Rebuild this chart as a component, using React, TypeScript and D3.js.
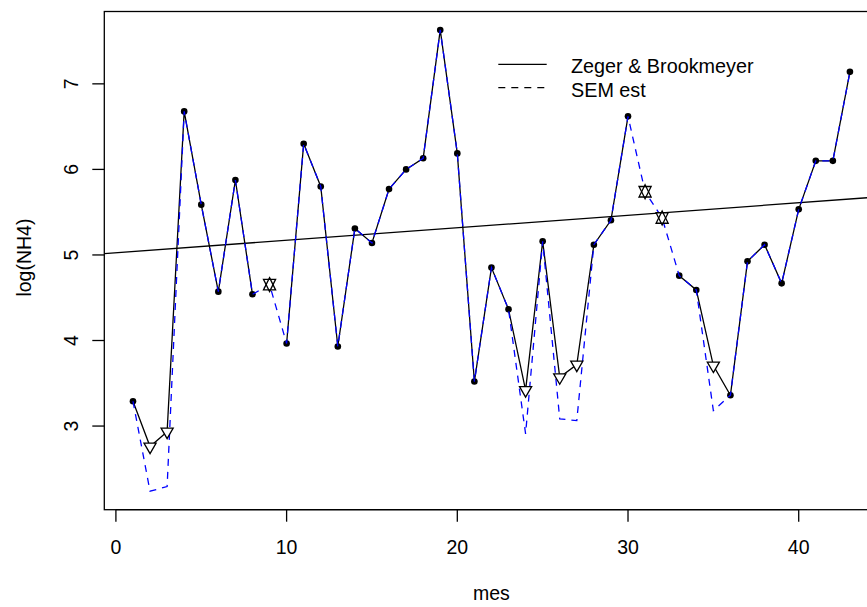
import React from "react";
import * as d3 from "d3";

const months = [1,2,3,4,5,6,7,8,9,10,11,12,13,14,15,16,17,18,19,20,21,22,23,24,25,26,27,28,29,30,31,32,33,34,35,36,37,38,39,40,41,42,43];
// Zeger & Brookmeyer estimates (null = missing month)
const zbEst: (number | null)[] = [3.29,2.76,2.935,6.678,5.588,4.571,5.876,4.54,null,3.965,6.30,5.80,3.93,5.31,5.14,5.77,6.00,6.13,7.63,6.187,3.52,4.852,4.364,3.42,5.159,3.57,3.718,5.12,5.405,6.62,null,null,4.758,4.591,3.707,3.36,4.925,5.12,4.668,5.533,6.10,6.10,7.14];
// SEM estimates
const semEst = [3.29,2.238,2.293,6.678,5.588,4.571,5.876,4.54,4.653,3.965,6.30,5.80,3.93,5.31,5.14,5.77,6.00,6.13,7.63,6.187,3.52,4.852,4.364,2.909,5.159,3.084,3.064,5.12,5.405,6.62,5.739,5.432,4.758,4.591,3.181,3.36,4.925,5.12,4.668,5.533,6.10,6.10,7.14];
const censoredMonths = [2,3,24,26,27,35];
const missingMonths = [9,31,32];
const xTicks = [0,10,20,30,40];
const yTicks = [3,4,5,6,7];
const legendLabels = ["Zeger & Brookmeyer", "SEM est"];
const trendIntercept = 5.026;
const trendSlope = 0.0146;
const xLabel = "mes";
const yLabel = "log(NH4)";

const W = 867, H = 607;
const L = 104.3, R = 878.6, T = 11.5, B = 509.7;
const FONT = "'Liberation Sans', Arial, Helvetica, sans-serif";
const FS = 19.5;
const FS_LEG = 19.8;

function pad(ext: [number, number]): [number, number] {
  const d = (ext[1] - ext[0]) * 0.04;
  return [ext[0] - d, ext[1] + d];
}

export default function App() {
  const x = d3.scaleLinear().domain(pad(d3.extent(months) as [number, number])).range([L, R]);
  const allY = [...semEst, ...(zbEst.filter((v) => v !== null) as number[])];
  const y = d3.scaleLinear().domain(pad(d3.extent(allY) as [number, number])).range([B, T]);

  const zbPts = months.map((m, i) => ({ m, v: zbEst[i] }));
  const zbLine = d3.line<{ m: number; v: number | null }>()
    .defined((d) => d.v !== null)
    .x((d) => x(d.m))
    .y((d) => y(d.v as number));
  const semLine = d3.line<number>().x((_, i) => x(months[i])).y((d) => y(d));

  const [x0, x1] = x.domain();
  const trend = d3.line<number>().x((d) => x(d)).y((d) => y(trendIntercept + trendSlope * d));

  const observed = zbPts.filter((d) => d.v !== null && !censoredMonths.includes(d.m));
  const censored = zbPts.filter((d) => censoredMonths.includes(d.m));
  const missing = months.map((m, i) => ({ m, v: semEst[i] })).filter((d) => missingMonths.includes(d.m));

  const r = 7;
  const xc = (r * Math.sqrt(3)) / 2;
  const triDown = `M0,${r}L${xc},${-r / 2}L${-xc},${-r / 2}Z`;
  const yc = 0.75 * r;
  const starUp = `M0,${-r}L${xc},${yc}L${-xc},${yc}Z`;
  const starDown = `M0,${r}L${xc},${-yc}L${-xc},${-yc}Z`;

  return (
    <svg width={W} height={H} style={{ position: "absolute", left: 0, top: 0, background: "#fff" }} fontFamily={FONT}>
      <defs>
        <clipPath id="plotclip">
          <rect x={L} y={T} width={R - L} height={B - T} />
        </clipPath>
      </defs>
      <rect x={0} y={0} width={W} height={H} fill="#fff" />
      <g clipPath="url(#plotclip)">
        <path d={zbLine(zbPts) || ""} fill="none" stroke="#000" strokeWidth={1.3} />
        <path d={trend([x0, x1]) || ""} fill="none" stroke="#000" strokeWidth={1.3} />
        {observed.map((d) => (
          <circle key={d.m} cx={x(d.m)} cy={y(d.v as number)} r={3.3} fill="#000" />
        ))}
        <path d={semLine(semEst) || ""} fill="none" stroke="#0000ff" strokeWidth={1.3} strokeDasharray="7 6" />
        {censored.map((d) => (
          <path key={d.m} d={triDown} transform={`translate(${x(d.m)},${y(d.v as number)})`} fill="#fff" stroke="#000" strokeWidth={1.3} />
        ))}
        {missing.map((d) => (
          <g key={d.m} transform={`translate(${x(d.m)},${y(d.v)})`}>
            <path d={starUp} fill="#fff" stroke="none" />
            <path d={starDown} fill="#fff" stroke="none" />
            <path d={starUp} fill="none" stroke="#000" strokeWidth={1.3} />
            <path d={starDown} fill="none" stroke="#000" strokeWidth={1.3} />
          </g>
        ))}
      </g>
      <rect x={L} y={T} width={R - L} height={B - T} fill="none" stroke="#000" strokeWidth={1.3} />
      {/* x axis */}
      <line x1={x(xTicks[0])} x2={x(xTicks[xTicks.length - 1])} y1={B} y2={B} stroke="#000" strokeWidth={1.3} />
      {xTicks.map((t) => (
        <g key={t}>
          <line x1={x(t)} x2={x(t)} y1={B} y2={B + 12} stroke="#000" strokeWidth={1.3} />
          <text x={x(t)} y={554} textAnchor="middle" fontSize={FS} fill="#000">{t}</text>
        </g>
      ))}
      <text x={(L + R) / 2} y={600} textAnchor="middle" fontSize={FS} fill="#000">{xLabel}</text>
      {/* y axis */}
      {yTicks.map((t) => (
        <g key={t}>
          <line x1={L - 12} x2={L} y1={y(t)} y2={y(t)} stroke="#000" strokeWidth={1.3} />
          <text transform={`translate(77.5,${y(t)}) rotate(-90)`} textAnchor="middle" fontSize={FS} fill="#000">{t}</text>
        </g>
      ))}
      <text transform={`translate(30.5,${(T + B) / 2 - 3}) rotate(-90)`} textAnchor="middle" fontSize={FS} fill="#000">{yLabel}</text>
      {/* legend */}
      {legendLabels.map((lab, i) => (
        <g key={lab}>
          <line x1={498.3} x2={546.7} y1={64.3 + i * 23.4} y2={64.3 + i * 23.4} stroke="#000" strokeWidth={1.3} strokeDasharray={i === 1 ? "7 6" : undefined} />
          <text x={571} y={73.3 + i * 23.4} fontSize={FS_LEG} fill="#000">{lab}</text>
        </g>
      ))}
    </svg>
  );
}
